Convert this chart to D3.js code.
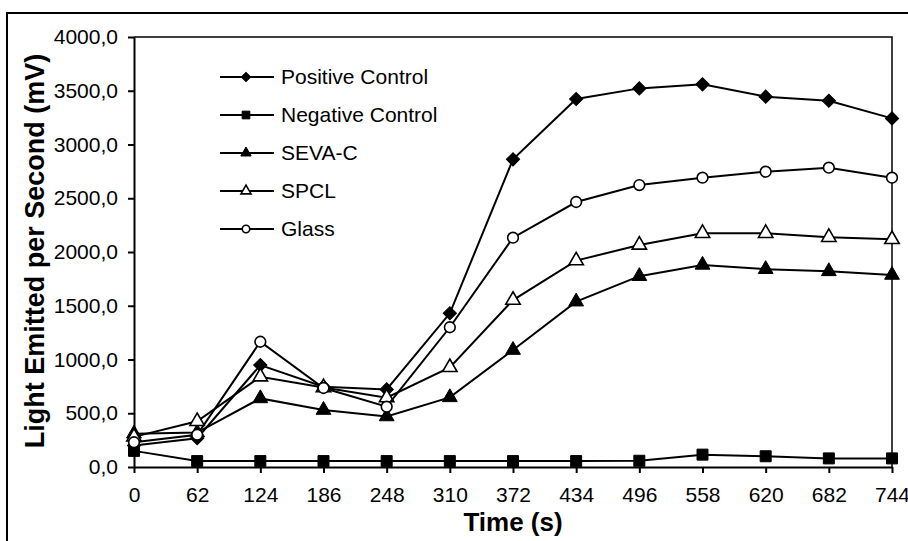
<html>
<head>
<style>
  body { margin: 0; background: white; }
  text { font-family: 'Liberation Sans', Arial, sans-serif; fill: black; }
  .axis path, .axis line { stroke: black; stroke-width: 2; }
  .axis text { font-size: 21px; }
</style>
</head>
<body>
<svg width="908" height="541"></svg>
<script src="https://d3js.org/d3.v7.min.js"></script>
<script>
// time points (s)
var times = [0, 62, 124, 186, 248, 310, 372, 434, 496, 558, 620, 682, 744];
var yTicks = [0, 500, 1000, 1500, 2000, 2500, 3000, 3500, 4000];

// series values (mV)
var positive = [200, 268, 948, 747, 722, 1430, 2862, 3423, 3522, 3560, 3445, 3407, 3243];
var negative = [150, 55, 55, 55, 55, 55, 55, 55, 58, 115, 100, 80, 80];
var sevaC    = [310, 320, 638, 530, 470, 648, 1088, 1538, 1775, 1880, 1840, 1820, 1786];
var spcl     = [280, 425, 840, 740, 645, 927, 1553, 1920, 2065, 2174, 2174, 2137, 2118];
var glass    = [230, 300, 1165, 735, 561, 1300, 2133, 2465, 2623, 2691, 2747, 2784, 2691];

var seriesNames = ['Positive Control', 'Negative Control', 'SEVA-C', 'SPCL', 'Glass'];
var seriesData = [positive, negative, sevaC, spcl, glass];
var seriesMarker = ['diamond', 'square', 'triangle', 'triangleOpen', 'circleOpen'];

var svg = d3.select('svg');
var plotLeft = 134, plotRight = 892, plotTop = 37, plotBottom = 467;

var x = d3.scaleLinear().domain([0, 744]).range([plotLeft, plotRight]);
var y = d3.scaleLinear().domain([0, 4000]).range([plotBottom, plotTop]);

// outer frame
svg.append('rect')
    .attr('x', 7).attr('y', 13)
    .attr('width', 920).attr('height', 560)
    .attr('fill', 'none').attr('stroke', 'black').attr('stroke-width', 2);

// plot frame (top + right)
svg.append('path')
    .attr('d', 'M' + plotLeft + ',' + plotTop + 'H' + plotRight + 'V' + plotBottom)
    .attr('fill', 'none').attr('stroke', 'black').attr('stroke-width', 1.5);

var fmt = function (d) { return d.toFixed(1).replace('.', ','); };

svg.append('g')
    .attr('class', 'axis')
    .attr('transform', 'translate(' + plotLeft + ',0)')
    .call(d3.axisLeft(y).tickValues(yTicks).tickFormat(fmt).tickSize(6).tickSizeOuter(0).tickPadding(10));

svg.append('g')
    .attr('class', 'axis')
    .attr('transform', 'translate(0,' + plotBottom + ')')
    .call(d3.axisBottom(x).tickValues(times).tickSize(6).tickSizeOuter(0).tickPadding(14));

// axis titles
svg.append('text')
    .attr('x', (plotLeft + plotRight) / 2).attr('y', 531)
    .attr('text-anchor', 'middle')
    .style('font-size', '26px').style('font-weight', 'bold')
    .text('Time (s)');

svg.append('text')
    .attr('transform', 'translate(44,' + 251 + ') rotate(-90)')
    .attr('text-anchor', 'middle')
    .style('font-size', '27px').style('font-weight', 'bold')
    .text('Light Emitted per Second (mV)');

function drawMarker(g, kind, big) {
    var s = big ? 1 : 0.7;
    var sym, fill;
    if (kind === 'diamond') { sym = d3.symbol().type(d3.symbolSquare).size(88 * s * s); fill = 'black'; }
    if (kind === 'square') { sym = d3.symbol().type(d3.symbolSquare).size(121 * s * s); fill = 'black'; }
    if (kind === 'triangle') { sym = d3.symbol().type(d3.symbolTriangle).size(95 * s * s); fill = 'black'; }
    if (kind === 'triangleOpen') { sym = d3.symbol().type(d3.symbolTriangle).size(90 * s * s); fill = 'white'; }
    if (kind === 'circleOpen') { sym = d3.symbol().type(d3.symbolCircle).size(90 * s * s); fill = 'white'; }
    var p = g.append('path').attr('d', sym()).attr('fill', fill)
        .attr('stroke', 'black').attr('stroke-width', fill === 'white' ? 1.6 : 1);
    if (kind === 'diamond') p.attr('transform', 'rotate(45)');
}

var line = d3.line()
    .x(function (d, i) { return x(times[i]); })
    .y(function (d) { return y(d); });

seriesData.forEach(function (vals, k) {
    var g = svg.append('g');
    g.append('path').datum(vals).attr('d', line)
        .attr('fill', 'none').attr('stroke', 'black').attr('stroke-width', 2);
    vals.forEach(function (v, i) {
        var m = g.append('g').attr('transform', 'translate(' + x(times[i]) + ',' + y(v) + ')');
        drawMarker(m, seriesMarker[k], true);
    });
});

// legend
var legendY = [77, 115, 153, 191, 229];
seriesNames.forEach(function (name, k) {
    var g = svg.append('g').attr('transform', 'translate(220,' + legendY[k] + ')');
    g.append('line').attr('x1', 0).attr('x2', 54).attr('stroke', 'black').attr('stroke-width', 2);
    var m = g.append('g').attr('transform', 'translate(26,0)');
    drawMarker(m, seriesMarker[k], false);
    g.append('text').attr('x', 61).attr('dy', '0.35em')
        .style('font-size', '21px').text(name);
});
</script>
</body>
</html>
